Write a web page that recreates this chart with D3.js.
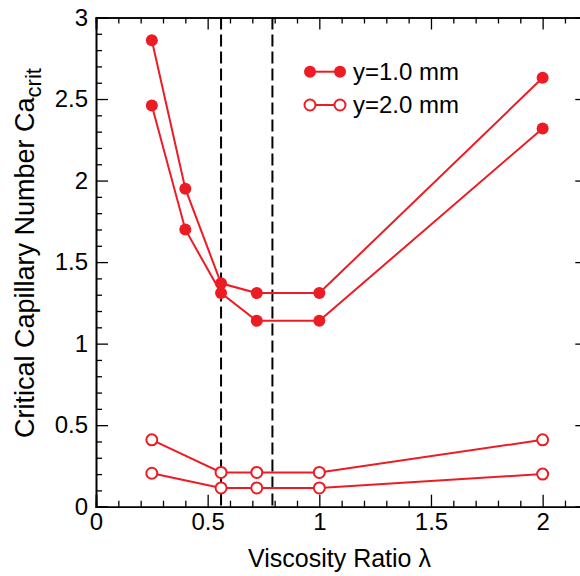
<!DOCTYPE html>
<html>
<head>
<meta charset="utf-8">
<script src="https://cdn.jsdelivr.net/npm/d3@7"></script>
<style>
  html, body { margin: 0; padding: 0; background: #fff; overflow: hidden; }
  svg { display: block; }
  text { font-family: "Liberation Sans", Arial, Helvetica, sans-serif; fill: #000; }
</style>
</head>
<body>
<svg id="chart" width="580" height="576"></svg>
<script>
// Viscosity ratio values where the critical capillary number was measured
const lambda1mm = [0.25, 0.4, 0.56, 0.72, 1.0, 2.0];
const caUpper1mm = [2.86, 1.95, 1.37, 1.31, 1.31, 2.63];
const caLower1mm = [2.46, 1.70, 1.31, 1.14, 1.14, 2.32];

const lambda2mm = [0.25, 0.56, 0.72, 1.0, 2.0];
const caUpper2mm = [0.41, 0.21, 0.21, 0.21, 0.41];
const caLower2mm = [0.205, 0.115, 0.115, 0.115, 0.20];

// Vertical reference lines
const dashedLambda = [0.56, 0.79];

const xTickValues = [0, 0.5, 1, 1.5, 2];
const yTickValues = [0, 0.5, 1, 1.5, 2, 2.5, 3];
const legendLabels = ["y=1.0 mm", "y=2.0 mm"];

const red = "#ed1c24";
const svg = d3.select("#chart");

const plotLeft = 96, plotRight = 587.3, plotTop = 17.5, plotBottom = 506.7;
const x = d3.scaleLinear().domain([0, 2.2]).range([plotLeft, plotRight]);
const y = d3.scaleLinear().domain([0, 3]).range([plotBottom, plotTop]);

const xMinor = d3.range(0, 22).map(i => i / 10).filter(v => !xTickValues.includes(v));
const yMinor = d3.range(0, 31).map(i => i / 10).filter(v => !yTickValues.includes(v));

// Dashed vertical markers
svg.append("g").selectAll("line").data(dashedLambda).join("line")
  .attr("x1", d => x(d)).attr("x2", d => x(d))
  .attr("y1", y(3)).attr("y2", y(0))
  .attr("stroke", "#000").attr("stroke-width", 2)
  .attr("stroke-dasharray", "12,5");

const line = d3.line().x(d => x(d[0])).y(d => y(d[1]));
const zip = (xs, ys) => xs.map((v, i) => [v, ys[i]]);

const series = [
  { pts: zip(lambda1mm, caUpper1mm), filled: true },
  { pts: zip(lambda1mm, caLower1mm), filled: true },
  { pts: zip(lambda2mm, caUpper2mm), filled: false },
  { pts: zip(lambda2mm, caLower2mm), filled: false }
];

series.forEach(s => {
  svg.append("path").datum(s.pts)
    .attr("d", line).attr("fill", "none")
    .attr("stroke", red).attr("stroke-width", 2);
});
series.forEach(s => {
  svg.append("g").selectAll("circle").data(s.pts).join("circle")
    .attr("cx", d => x(d[0])).attr("cy", d => y(d[1]))
    .attr("r", s.filled ? 6 : 5.5)
    .attr("fill", s.filled ? red : "#fff")
    .attr("stroke", red).attr("stroke-width", s.filled ? 0 : 2);
});

// Axes: ticks point inward on all four sides
function styleAxis(g) {
  g.select(".domain").attr("stroke", "#000").attr("stroke-width", 1.6);
  g.selectAll(".tick line").attr("stroke", "#000").attr("stroke-width", 1.3);
  g.selectAll(".tick text").attr("font-size", 24)
    .attr("font-family", "'Liberation Sans', Arial, sans-serif").attr("fill", "#000");
}
const fmt = d => String(d);

svg.append("g").attr("transform", `translate(0,${plotBottom})`)
  .call(d3.axisBottom(x).tickValues(xTickValues).tickFormat(fmt).tickSize(-12).tickPadding(6))
  .call(styleAxis);
svg.append("g").attr("transform", `translate(0,${plotBottom})`)
  .call(d3.axisBottom(x).tickValues(xMinor).tickFormat("").tickSize(-6))
  .call(styleAxis);
svg.append("g").attr("transform", `translate(0,${plotTop})`)
  .call(d3.axisTop(x).tickValues(xTickValues).tickFormat("").tickSize(-12))
  .call(styleAxis);
svg.append("g").attr("transform", `translate(0,${plotTop})`)
  .call(d3.axisTop(x).tickValues(xMinor).tickFormat("").tickSize(-6))
  .call(styleAxis);

svg.append("g").attr("transform", `translate(${plotLeft},0)`)
  .call(d3.axisLeft(y).tickValues(yTickValues).tickFormat(fmt).tickSize(-12).tickPadding(8))
  .call(styleAxis);
svg.append("g").attr("transform", `translate(${plotLeft},0)`)
  .call(d3.axisLeft(y).tickValues(yMinor).tickFormat("").tickSize(-6))
  .call(styleAxis);
svg.append("g").attr("transform", `translate(${plotRight},0)`)
  .call(d3.axisRight(y).tickValues(yTickValues).tickFormat("").tickSize(-12))
  .call(styleAxis);
svg.append("g").attr("transform", `translate(${plotRight},0)`)
  .call(d3.axisRight(y).tickValues(yMinor).tickFormat("").tickSize(-6))
  .call(styleAxis);

// Axis titles
svg.append("text")
  .attr("x", 248).attr("y", 566.7)
  .attr("font-size", 25)
  .text("Viscosity Ratio λ");

const yTitle = svg.append("text")
  .attr("transform", "translate(34,438) rotate(-90)")
  .attr("font-size", 27);
yTitle.append("tspan").text("Critical Capillary Number Ca");
yTitle.append("tspan").attr("dy", "0.32em").attr("font-size", 22).text("crit");

// Legend
const legend = svg.append("g");
legendLabels.forEach((label, i) => {
  const ly = 71.7 + i * 33.3;
  const filled = i === 0;
  legend.append("line").attr("x1", 310).attr("x2", 340).attr("y1", ly).attr("y2", ly)
    .attr("stroke", red).attr("stroke-width", 2);
  [310, 340].forEach(cx => {
    legend.append("circle").attr("cx", cx).attr("cy", ly)
      .attr("r", filled ? 6 : 5.5)
      .attr("fill", filled ? red : "#fff")
      .attr("stroke", red).attr("stroke-width", filled ? 0 : 2);
  });
  legend.append("text").attr("x", 353).attr("y", ly).attr("dy", "0.35em")
    .attr("font-size", 24).text(label);
});
</script>
</body>
</html>
